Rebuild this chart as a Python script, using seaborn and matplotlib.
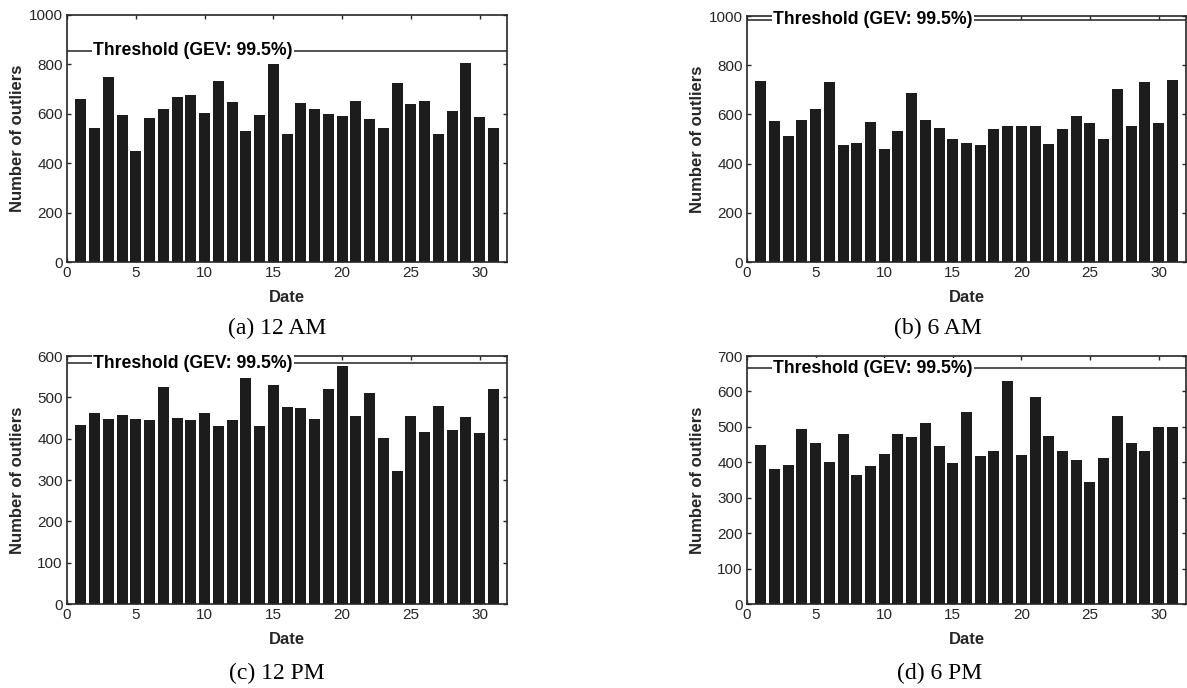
import numpy as np
import pandas as pd
import matplotlib
matplotlib.use("Agg")
import matplotlib.pyplot as plt
import seaborn as sns

# Data
dates = list(range(1, 32))

outliers_12am = [658, 541, 751, 594, 449, 582, 621, 670, 675, 602, 734, 647, 530, 594, 803,
                 518, 643, 618, 598, 593, 650, 578, 541, 725, 641, 650, 518, 613, 805, 587, 541]
outliers_6am = [736, 574, 513, 577, 620, 733, 475, 483, 568, 458, 531, 687, 577, 544, 501,
                483, 475, 539, 551, 554, 551, 479, 539, 592, 565, 501, 705, 554, 733, 565, 740]
outliers_12pm = [433, 462, 448, 457, 447, 445, 525, 450, 445, 462, 430, 444, 546, 431, 530,
                 476, 474, 448, 520, 577, 456, 510, 402, 321, 456, 415, 479, 420, 453, 413, 520]
outliers_6pm = [450, 381, 392, 495, 455, 401, 480, 364, 389, 423, 480, 471, 511, 447, 399,
                541, 417, 431, 630, 421, 584, 473, 431, 407, 345, 413, 532, 455, 431, 501, 499]

thresholds = [856, 985, 582, 665]
y_maxes = [1000, 1000, 600, 700]
captions = ["(a) 12 AM", "(b) 6 AM", "(c) 12 PM", "(d) 6 PM"]
threshold_label = "Threshold (GEV: 99.5%)"

sns.set_style("ticks")
plt.rcParams["font.family"] = ["Liberation Sans", "DejaVu Sans"]

W, H = 1187, 688
fig = plt.figure(figsize=(W / 100, H / 100), dpi=100)

# axes boxes in pixels: left, top, right, bottom
boxes = [(67, 15, 507, 262), (747, 16, 1186, 262),
         (67, 356, 507, 604), (747, 356, 1186, 604)]
caption_pos = [(277, 328), (938, 328), (277, 673), (940, 673)]

series = [outliers_12am, outliers_6am, outliers_12pm, outliers_6pm]

for i, vals in enumerate(series):
    l, t, r, b = boxes[i]
    ax = fig.add_axes([l / W, 1 - b / H, (r - l) / W, (b - t) / H])
    df = pd.DataFrame({"Date": dates, "Outliers": vals})
    sns.barplot(data=df, x="Date", y="Outliers", native_scale=True, width=0.8,
                color="#1c1c1c", saturation=1, edgecolor="none", ax=ax)

    ax.axhline(thresholds[i], color="#333333", lw=1.2, zorder=2)
    ax.text(1.9, thresholds[i], threshold_label, fontsize=12.7, fontweight="bold",
            va="center", ha="left", color="black", zorder=4, clip_on=False,
            bbox=dict(facecolor="white", edgecolor="none", pad=1.0))

    ax.set_xlim(0, 32)
    ax.set_ylim(0, y_maxes[i])
    ax.set_xticks(range(0, 31, 5))
    ax.set_yticks(np.arange(0, y_maxes[i] + 1, 100 if y_maxes[i] < 1000 else 200))
    ax.tick_params(direction="in", length=3, width=1, top=True, right=True,
                   labelsize=11, colors="#262626", pad=3)
    for s in ax.spines.values():
        s.set_visible(True)
        s.set_color("#262626")
        s.set_linewidth(1.2)

    ax.set_xlabel("Date", fontsize=12, fontweight="bold", color="#262626", va="center")
    ax.xaxis.set_label_coords(0.5, -35 / (b - t))
    ax.set_ylabel("Number of outliers", fontsize=12, fontweight="bold",
                  color="#262626", va="center")
    ax.yaxis.set_label_coords(-49 / (r - l), 0.5)

    cx, cy = caption_pos[i]
    fig.text(cx / W, 1 - cy / H, captions[i], ha="center", va="center",
             fontsize=17, family="Liberation Serif", color="black")

fig.savefig("out.png", dpi=100)
